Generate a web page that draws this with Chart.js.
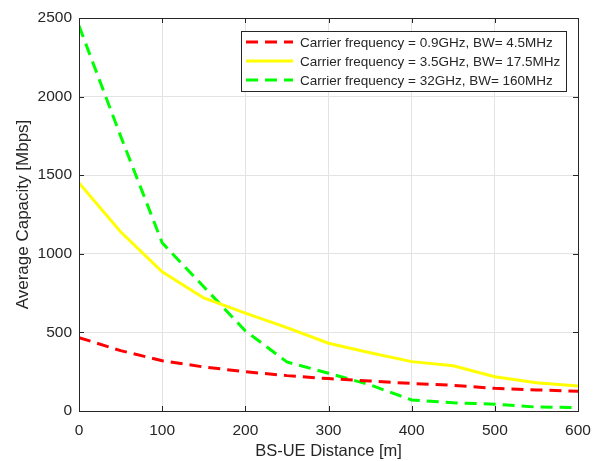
<!DOCTYPE html>
<html>
<head>
<meta charset="utf-8">
<script src="https://cdn.jsdelivr.net/npm/chart.js@4/dist/chart.umd.min.js"></script>
<style>
  html, body { margin: 0; padding: 0; background: #fff; }
  #wrap { width: 601px; height: 461px; }
</style>
</head>
<body>
<div id="wrap"><canvas id="chart" width="601" height="461"></canvas></div>
<script>
// distances in metres
const distances = [0, 50, 100, 150, 200, 250, 300, 350, 400, 450, 500, 550, 600];

// average capacity in Mbps
const cap09 = [467, 384, 320, 280, 250, 225, 206, 191, 175, 163, 144, 134, 126];
const cap35 = [1450, 1140, 886, 719, 623, 530, 431, 371, 314, 288, 218, 180, 159];
const cap32 = [2450, 1750, 1070, 790, 510, 312, 240, 166, 70, 52, 43, 25, 22];

const seriesLabels = [
  "Carrier frequency = 0.9GHz, BW= 4.5MHz",
  "Carrier frequency = 3.5GHz, BW= 17.5MHz",
  "Carrier frequency = 32GHz, BW= 160MHz",
];

const xTicks = [0, 100, 200, 300, 400, 500, 600];
const yTicks = [0, 500, 1000, 1500, 2000, 2500];

const FONT = "'Liberation Sans', Arial, sans-serif";
const TXT = "#262626";

function toPoints(ys) {
  return distances.map((d, i) => ({ x: d, y: ys[i] }));
}

// box around plot, inward ticks, legend inside the axes
const matlabBox = {
  id: "matlabBox",
  afterDraw(chart) {
    const ctx = chart.ctx;
    const a = chart.chartArea;
    const xs = chart.scales.x, ys = chart.scales.y;
    ctx.save();
    ctx.strokeStyle = TXT;
    ctx.lineWidth = 1;
    ctx.strokeRect(Math.round(a.left) + 0.5, Math.round(a.top) + 0.5,
      Math.round(a.right - a.left), Math.round(a.bottom - a.top));
    ctx.beginPath();
    xTicks.forEach(v => {
      const px = Math.round(xs.getPixelForValue(v)) + 0.5;
      ctx.moveTo(px, a.bottom); ctx.lineTo(px, a.bottom - 5);
      ctx.moveTo(px, a.top); ctx.lineTo(px, a.top + 5);
    });
    yTicks.forEach(v => {
      const py = Math.round(ys.getPixelForValue(v)) + 0.5;
      ctx.moveTo(a.left, py); ctx.lineTo(a.left + 5, py);
      ctx.moveTo(a.right, py); ctx.lineTo(a.right - 5, py);
    });
    ctx.stroke();

    // legend
    const lx = 241, ly = 31, lw = 325, lh = 60;
    ctx.fillStyle = "#fff";
    ctx.fillRect(lx, ly, lw, lh);
    ctx.strokeStyle = "#262626";
    ctx.strokeRect(lx + 0.5, ly + 0.5, lw, lh);
    ctx.font = "13.5px " + FONT;
    ctx.textBaseline = "middle";
    chart.data.datasets.forEach((ds, i) => {
      const yy = ly + 11 + i * 19;
      ctx.save();
      ctx.strokeStyle = ds.borderColor;
      ctx.lineWidth = ds.borderWidth;
      ctx.setLineDash(ds.borderDash || []);
      ctx.beginPath();
      ctx.moveTo(lx + 5, yy);
      ctx.lineTo(lx + 52, yy);
      ctx.stroke();
      ctx.restore();
      ctx.fillStyle = TXT;
      ctx.fillText(ds.label, lx + 59, yy + 1);
    });
    ctx.restore();
  }
};

const config = {
  type: "line",
  data: {
    datasets: [
      { label: seriesLabels[0], data: toPoints(cap09), borderColor: "#ff0000",
        borderWidth: 3, borderDash: [12, 7] },
      { label: seriesLabels[1], data: toPoints(cap35), borderColor: "#ffff00",
        borderWidth: 3 },
      { label: seriesLabels[2], data: toPoints(cap32), borderColor: "#00ff00",
        borderWidth: 3, borderDash: [12, 7] },
    ],
  },
  options: {
    responsive: false,
    animation: false,
    elements: { point: { radius: 0 }, line: { tension: 0 } },
    layout: { padding: { top: 18, right: 23, left: 0, bottom: 0 } },
    plugins: { legend: { display: false }, tooltip: { enabled: false } },
    scales: {
      x: {
        type: "linear",
        min: 0, max: 600,
        afterBuildTicks: s => { s.ticks = xTicks.map(v => ({ value: v })); },
        afterFit: s => { s.height = 50; },
        grid: { color: "#e3e3e3", drawTicks: false },
        border: { display: false },
        ticks: { color: TXT, font: { family: FONT, size: 15.5 }, padding: 10,
          callback: v => String(v) },
        title: { display: true, text: "BS-UE Distance [m]", color: TXT,
          font: { family: FONT, size: 16.5 }, padding: { top: 0, bottom: 0 } },
      },
      y: {
        min: 0, max: 2500,
        afterBuildTicks: s => { s.ticks = yTicks.map(v => ({ value: v })); },
        afterFit: s => { s.width = 79; },
        grid: { color: "#e3e3e3", drawTicks: false },
        border: { display: false },
        ticks: { color: TXT, font: { family: FONT, size: 15.5 }, padding: 7,
          callback: v => String(v) },
        title: { display: true, text: "Average Capacity [Mbps]", color: TXT,
          font: { family: FONT, size: 17 }, padding: { top: 13, bottom: 0 } },
      },
    },
  },
  plugins: [matlabBox],
};

new Chart(document.getElementById("chart"), config);
</script>
</body>
</html>
